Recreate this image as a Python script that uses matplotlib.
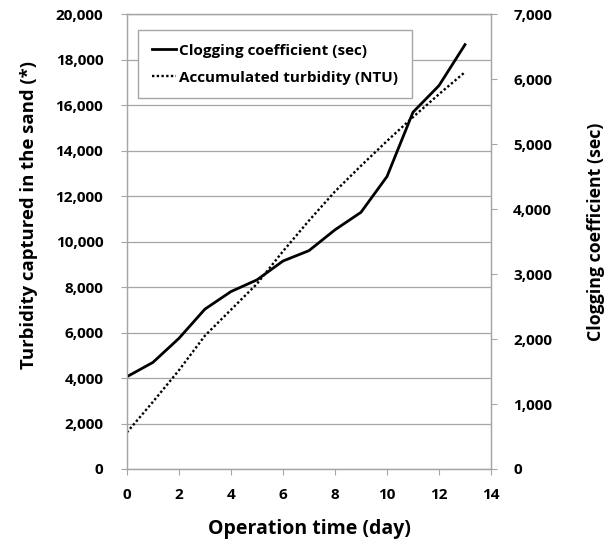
import matplotlib
matplotlib.use("Agg")
import matplotlib.pyplot as plt
from matplotlib.ticker import FuncFormatter, MultipleLocator

plt.rcParams['font.family'] = ['Open Sans', 'DejaVu Sans']
plt.rcParams['font.weight'] = 'bold'

days = [0, 1, 2, 3, 4, 5, 6, 7, 8, 9, 10, 11, 12, 13]
# accumulated turbidity (NTU), left axis
turbidity = [1610, 2950, 4340, 5860, 7000, 8140, 9570, 10920, 12200, 13330, 14420, 15470, 16480, 17450]
# clogging coefficient (sec), right axis
clogging = [1420, 1640, 2010, 2460, 2730, 2910, 3200, 3360, 3680, 3950, 4500, 5490, 5900, 6530]

grey = "#a6a6a6"
comma = FuncFormatter(lambda v, p: f"{v:,.0f}")

fig = plt.figure(figsize=(6.13, 5.42), dpi=100)
ax = fig.add_axes([0.207, 0.1347, 0.594, 0.8393])
ax2 = ax.twinx()

l2, = ax.plot(days, turbidity, color="black", lw=1.7, linestyle=(0, (1, 1)),
              label="Accumulated turbidity (NTU)")
l1, = ax2.plot(days, clogging, color="black", lw=2.0,
               label="Clogging coefficient (sec)")

ax.set_xlim(0, 14)
ax.set_ylim(0, 20000)
ax2.set_ylim(0, 7000)
ax.xaxis.set_major_locator(MultipleLocator(2))
ax.yaxis.set_major_locator(MultipleLocator(2000))
ax2.yaxis.set_major_locator(MultipleLocator(1000))
ax.yaxis.set_major_formatter(comma)
ax2.yaxis.set_major_formatter(comma)

ax.grid(True, axis="y", color=grey, lw=0.9)
ax.set_axisbelow(True)
for a in (ax, ax2):
    for s in a.spines.values():
        s.set_color(grey)
        s.set_linewidth(0.9)
ax.tick_params(axis="both", direction="out", length=4, color=grey, labelsize=11)
ax.tick_params(axis="y", pad=13)
ax.tick_params(axis="x", pad=10)
ax2.tick_params(axis="y", direction="out", length=4, color=grey, labelsize=11, pad=12)

ax.set_xlabel("Operation time (day)", fontsize=14, fontweight="bold", labelpad=12)
ax.set_ylabel("Turbidity captured in the sand (*)", fontsize=13.3, fontweight="bold")
ax2.set_ylabel("Clogging coefficient (sec)", fontsize=12.8, fontweight="bold")
ax.yaxis.set_label_coords(-0.244, 0.559)
ax2.yaxis.set_label_coords(1.264, 0.521)

leg = ax2.legend(handles=[l1, l2], loc="upper left", bbox_to_anchor=(0.03, 0.965),
                 borderaxespad=0, prop={"size": 11, "weight": "bold"}, frameon=True,
                 fancybox=False, framealpha=1, handlelength=1.6, handletextpad=0.2,
                 borderpad=0.9, labelspacing=0.85)
leg.get_frame().set_edgecolor(grey)
leg.get_frame().set_linewidth(1.0)

fig.savefig("out.png", dpi=100)
